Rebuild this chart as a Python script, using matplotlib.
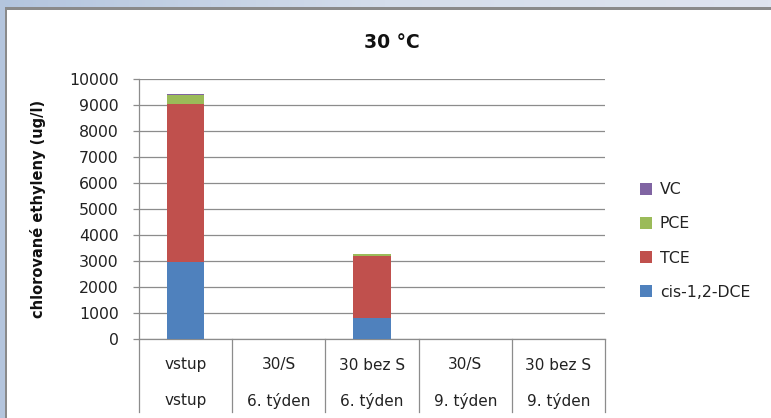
import matplotlib
matplotlib.use("Agg")
import matplotlib.pyplot as plt
import matplotlib.transforms as mtransforms
from matplotlib.patches import Rectangle
import numpy as np

# Data: chlorinated ethylenes at 30 °C (ug/l)
samples = ["vstup", "30/S", "30 bez S", "30/S", "30 bez S"]
periods = ["vstup", "6. týden", "6. týden", "9. týden", "9. týden"]
cis_dce = [2950, 0, 820, 0, 0]
tce = [6100, 0, 2370, 0, 0]
pce = [335, 0, 75, 0, 0]
vc = [40, 0, 0, 0, 0]

series = [("cis-1,2-DCE", cis_dce, "#4F81BD"),
          ("TCE", tce, "#C0504D"),
          ("PCE", pce, "#9BBB59"),
          ("VC", vc, "#8064A2")]

W, H = 771, 418
fig = plt.figure(figsize=(W / 100, H / 100), dpi=100)
fig.patch.set_facecolor("white")

# window frame: bluish strips on top and left with a dark edge
grad = np.linspace(0, 1, 256).reshape(1, -1)
frame_ax = fig.add_axes([0, 1 - 7.5 / H, 1, 7.5 / H])
frame_ax.imshow(grad, aspect="auto", extent=[0, 1, 0, 1],
                cmap=matplotlib.colors.LinearSegmentedColormap.from_list(
                    "fr", ["#B3C5DE", "#D4DDEB", "#DFE4EF"]))
frame_ax.axis("off")
fig.patches.append(Rectangle((0, 0), 4.5 / W, 1, transform=fig.transFigure,
                             facecolor="#B4C5DD", edgecolor="none", zorder=0))
fig.patches.append(Rectangle((4.5 / W, 0), 2.5 / W, 1 - 7.5 / H, transform=fig.transFigure,
                             facecolor="#8A8A8A", edgecolor="none", zorder=0))
fig.patches.append(Rectangle((4.5 / W, 1 - 9.5 / H), 1 - 4.5 / W, 2 / H,
                             transform=fig.transFigure,
                             facecolor="#8A8A8A", edgecolor="none", zorder=0))

left, right, top, bottom = 139, 605, 79, 339
ax = fig.add_axes([left / W, 1 - bottom / H, (right - left) / W, (bottom - top) / H])

x = np.arange(len(samples))
base = np.zeros(len(samples))
for name, vals, col in series:
    ax.bar(x, vals, width=0.4, bottom=base, color=col, label=name, zorder=3,
           linewidth=0)
    base += np.array(vals)

ax.set_xlim(-0.5, len(samples) - 0.5)
ax.set_ylim(0, 10000)
ax.set_yticks(np.arange(0, 10001, 1000))
ax.yaxis.grid(True, color="#8C8C8C", linewidth=0.9, zorder=0)
ax.set_axisbelow(True)
for s in ["top", "right"]:
    ax.spines[s].set_visible(False)
ax.spines["left"].set_color("#8C8C8C")
ax.spines["bottom"].set_color("#8C8C8C")
ax.spines["left"].set_linewidth(0.9)
ax.spines["bottom"].set_linewidth(0.9)
ax.tick_params(axis="y", length=4.5, width=0.9, color="#8C8C8C", pad=10,
               labelsize=11.3, labelcolor="#222222")
ax.set_xticks([])

# two-row category labels with separators
trans = mtransforms.blended_transform_factory(ax.transData, fig.transFigure)
for i, (a, b) in enumerate(zip(samples, periods)):
    ax.text(i, 1 - 365 / H, a, transform=trans, ha="center", va="center",
            fontsize=11, color="#222222")
    ax.text(i, 1 - 401 / H, b, transform=trans, ha="center", va="center",
            fontsize=11, color="#222222")
for xs in np.arange(-0.5, len(samples), 1.0):
    ax.plot([xs, xs], [1 - bottom / H, 1 - 412 / H], transform=trans,
            color="#8C8C8C", linewidth=0.9, clip_on=False)

ax.set_ylabel("chlorované ethyleny (ug/l)", fontsize=10.5, fontweight="bold",
              labelpad=8, color="#111111")
ax.yaxis.set_label_coords(-(left - 46) / (right - left), 0.5)

fig.text(392 / W, 1 - 42 / H, "30 °C", ha="center", va="center",
         fontsize=13.5, fontweight="bold", color="#111111")

handles, labels = ax.get_legend_handles_labels()
leg = fig.legend(handles[::-1], labels[::-1], loc="center left",
                 bbox_to_anchor=(626 / W, 1 - 241 / H), frameon=False,
                 fontsize=11.3, handlelength=0.75, handleheight=0.75,
                 handletextpad=0.5, labelspacing=1.22)
for t in leg.get_texts():
    t.set_color("#222222")

fig.savefig("out.png", dpi=100)
